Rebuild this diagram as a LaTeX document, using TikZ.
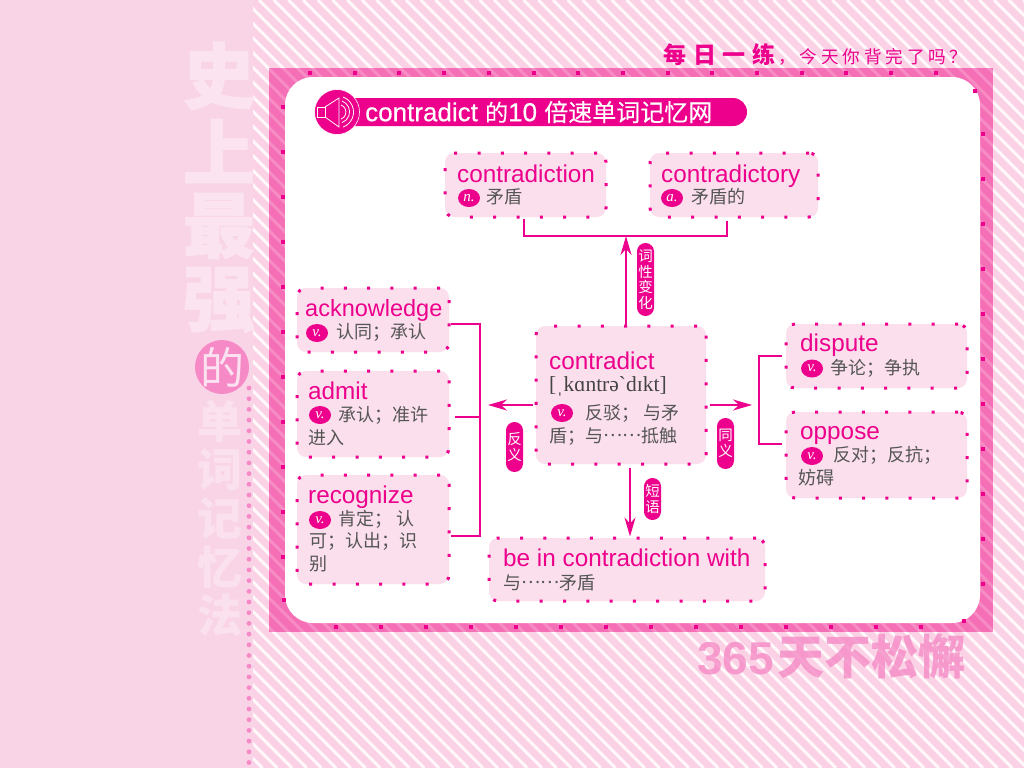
\documentclass[tikz,border=0pt]{standalone}
\usepackage{fontspec}
\usetikzlibrary{arrows.meta,shapes.geometric}
\setmainfont{Liberation Sans}
\newfontfamily\cjk{Noto Sans CJK SC}
\newfontfamily\cjkheavy[BoldFeatures={FakeBold=1.2}]{Noto Sans CJK SC}
\newfontfamily\cjkwide[LetterSpace=30]{Noto Sans CJK SC}
\newfontfamily\cjkspaced[LetterSpace=22]{Noto Sans CJK SC}
\newfontfamily\titlelatin[FakeBold=.5]{Liberation Sans}
\newfontfamily\titlecjk[FakeBold=.3]{Noto Sans CJK SC}
\newfontfamily\ipafont{Liberation Serif}
\newcommand{\cjkdots}{\raisebox{.33em}[0pt][0pt]{……}}
\definecolor{magentamain}{HTML}{EC008C}
\definecolor{panelpink}{HTML}{F9D4E7}
\definecolor{stripepink}{HTML}{FBD2E5}
\definecolor{framepink}{HTML}{F56FB6}
\definecolor{boxpink}{HTML}{FBDFEC}
\definecolor{softpink}{HTML}{F58AC6}
\definecolor{glossgray}{HTML}{555555}
\tikzset{
    wordbox/.style={
        fill=boxpink,
        draw=magentamain,
        line width=3pt,
        dash pattern=on 3pt off 20.3pt,
        rounded corners=9pt,
        inner sep=0pt
    },
    headword/.style={
        anchor=base west,
        inner sep=0pt,
        text=magentamain,
        font=\fontsize{24.3}{26}\selectfont
    },
    gloss/.style={
        anchor=west,
        inner sep=0pt,
        text=glossgray,
        font=\cjk\fontsize{18}{20}\selectfont
    },
    posmark/.style={
        ellipse,
        fill=magentamain,
        text=white,
        inner sep=0pt,
        minimum width=22pt,
        minimum height=18pt,
        font=\ipafont\itshape\fontsize{15}{15}\selectfont
    },
    tagpill/.style={
        fill=magentamain,
        text=white,
        inner sep=0pt,
        minimum width=17pt,
        rounded corners=8.4pt,
        align=center,
        font=\cjk\fontsize{14.5}{15.5}\selectfont
    },
    branch/.style={
        draw=magentamain,
        line width=1.5pt
    },
    pointer/.style={
        branch,
        -{Stealth[length=19pt,width=11pt,inset=6pt]}
    },
    framedot/.style={
        fill=magentamain
    },
    bigglyph/.style={
        text=white!38!panelpink,
        font=\cjkheavy\bfseries\fontsize{72}{72}\selectfont
    },
    midglyph/.style={
        text=white!30!panelpink,
        font=\cjk\bfseries\fontsize{45}{45}\selectfont
    }
}

\begin{document}
\begin{tikzpicture}[x=1pt,y=1pt]
\useasboundingbox (0,0) rectangle (1024,-768);

% Background
\fill[stripepink] (0,0) rectangle (1024,-768);
\begin{scope}
\clip (0,0) rectangle (1024,-768);
\foreach \sx in {-770,-755.3,...,1030} {
    \draw[white!85!stripepink,line width=3pt] (\sx,0) -- (\sx+768,-768);
}
\end{scope}
\fill[panelpink] (0,0) rectangle (253,-768);

% Side column
\node[bigglyph] (shi) at (219,-76) {史};
\node[bigglyph] (shang) at (219,-151) {上};
\node[bigglyph] (zui) at (219,-226) {最};
\node[bigglyph] (qiang) at (219,-300) {强};
\node[circle,fill=softpink,minimum size=54pt,inner sep=0pt] (decircle) at (222,-367) {};
\node[text=white!75!softpink,font=\cjk\fontsize{44}{44}\selectfont] (de) at (decircle) {的};
\node[midglyph] (dan) at (220,-421) {单};
\node[midglyph] (ci) at (220,-470) {词};
\node[midglyph] (ji) at (220,-518) {记};
\node[midglyph] (yi) at (220,-567) {忆};
\node[midglyph] (fa) at (220,-615) {法};
\foreach \dy in {388,398.7,...,770} {
    \fill[softpink] (249,-\dy) circle (2.4);
}

% Top line and bottom line
\node[anchor=west,inner sep=0pt,text=magentamain,font=\cjkwide\bfseries\fontsize{23}{23}\selectfont] (dailyword) at (663,-55) {每日一练};
\node[anchor=west,inner sep=0pt,text=magentamain,font=\cjkspaced\fontsize{17.6}{17.6}\selectfont] (dailyask) at (778,-57) {，今天你背完了吗？};
\node[anchor=west,inner sep=0pt,text=softpink,opacity=.8,font=\bfseries\fontsize{46}{46}\selectfont] (slogan) at (697,-656) {365\hspace{4pt}{\cjk\fontsize{47}{47}\selectfont 天不松懈}};

% Frame
\fill[framepink] (269,-68) rectangle (993,-632);
\begin{scope}
\clip (269,-68) rectangle (993,-632);
\foreach \sx in {-770,-755.3,...,1030} {
    \draw[white,opacity=.2,line width=3pt] (\sx,0) -- (\sx+768,-768);
}
\end{scope}
\fill[white,rounded corners=28pt] (285,-77) rectangle (980,-623);
\foreach \dx in {310,354.7,...,940} {
    \fill[framedot] (\dx-2,-71) rectangle (\dx+2,-75);
}
\foreach \dx in {336,381,...,925} {
    \fill[framedot] (\dx-2,-625) rectangle (\dx+2,-629);
}
\foreach \dy in {107,152,...,560} {
    \fill[framedot] (281,-\dy+2) rectangle (285,-\dy-2);
}
\foreach \dy in {134,179,...,590} {
    \fill[framedot] (981,-\dy+2) rectangle (985,-\dy-2);
}
\fill[framedot] (282,-598) rectangle (286,-602);
\fill[framedot] (973,-89) rectangle (977,-93);
\fill[framedot] (962,-619) rectangle (966,-623);

% Title
\node[fill=magentamain,rounded corners=14pt,minimum width=417pt,minimum height=28pt,inner sep=0pt] (titlebar) at (538.5,-112) {};
\node[circle,fill=magentamain,draw=white,line width=.6pt,minimum size=45pt,inner sep=0pt] (speaker) at (337,-112) {};
\draw[white,line width=.8pt] (317,-107) rectangle (325,-117);
\draw[white,line width=.8pt] (325,-107) -- (339,-98) -- (339,-127) -- (325,-117);
\draw[white,line width=.8pt] (341,-105) arc (70:-70:7.5);
\draw[white,line width=.8pt] (342,-101) arc (70:-70:11.5);
\draw[white,line width=.8pt] (343,-97) arc (70:-70:16);
\node[anchor=west,inner sep=0pt,text=white,font=\titlelatin\fontsize{26}{26}\selectfont] (titletext) at (365,-112) {contradict {\titlecjk\fontsize{23}{23}\selectfont 的}10 {\titlecjk\fontsize{24}{24}\selectfont 倍速单词记忆网}};

% Word family row
\node[wordbox,minimum width=161pt,minimum height=64pt] (tionbox) at (525.5,-185) {};
\node[headword] (tionword) at (457,-182) {contradiction};
\node[posmark] (tionpos) at (469,-198) {n.};
\node[gloss] (tiongloss) at (486,-197) {矛盾};

\node[wordbox,minimum width=168pt,minimum height=64pt] (torybox) at (734,-185) {};
\node[headword] (toryword) at (661,-182) {contradictory};
\node[posmark] (torypos) at (672,-198) {a.};
\node[gloss] (torygloss) at (691,-197) {矛盾的};

% Left column
\node[wordbox,minimum width=152pt,minimum height=64pt] (ackbox) at (373,-320) {};
\node[headword,font=\fontsize{23.5}{26}\selectfont] (ackword) at (305,-316) {acknowledge};
\node[posmark] (ackpos) at (317,-333) {v.};
\node[gloss] (ackgloss) at (336,-332) {认同；承认};

\node[wordbox,minimum width=152pt,minimum height=86pt] (admitbox) at (373,-414) {};
\node[headword] (admitword) at (308,-399) {admit};
\node[posmark] (admitpos) at (320,-415) {v.};
\node[gloss] (admitgloss) at (338,-415) {承认；准许};
\node[gloss] (admitmore) at (308,-438) {进入};

\node[wordbox,minimum width=152pt,minimum height=109pt] (recbox) at (373,-529.5) {};
\node[headword] (recword) at (308,-503) {recognize};
\node[posmark] (recpos) at (320,-520) {v.};
\node[gloss] (recgloss) at (338,-519) {肯定； 认};
\node[gloss] (recmore) at (309,-541) {可；认出；识};
\node[gloss] (reclast) at (309,-564) {别};

% Center
\node[wordbox,minimum width=170pt,minimum height=138pt] (centerbox) at (621,-395) {};
\node[headword] (centerword) at (549,-369) {contradict};
\node[anchor=west,inner sep=0pt,text=glossgray!80!black,font=\ipafont\fontsize{21.5}{21.5}\selectfont] (centeripa) at (549,-386) {[ˌkɑntrə`dɪkt]};
\node[posmark] (centerpos) at (562,-413) {v.};
\node[gloss] (centergloss) at (585,-413) {反驳； 与矛};
\node[gloss] (centermore) at (549,-436) {盾；与\cjkdots 抵触};

% Right column
\node[wordbox,minimum width=181pt,minimum height=64pt] (disputebox) at (876.5,-356) {};
\node[headword] (disputeword) at (800,-351) {dispute};
\node[posmark] (disputepos) at (812,-368.5) {v.};
\node[gloss] (disputegloss) at (830,-368) {争论；争执};

\node[wordbox,minimum width=181pt,minimum height=86pt] (opposebox) at (876.5,-455) {};
\node[headword] (opposeword) at (800,-439) {oppose};
\node[posmark] (opposepos) at (812,-456) {v.};
\node[gloss] (opposegloss) at (833,-455) {反对；反抗；};
\node[gloss] (opposemore) at (798,-478) {妨碍};

% Phrase
\node[wordbox,minimum width=276pt,minimum height=63pt] (phrasebox) at (627,-569.5) {};
\node[headword] (phraseword) at (503,-566) {be in contradiction with};
\node[gloss] (phrasegloss) at (503,-583) {与\cjkdots 矛盾};

% Tags
\node[tagpill,minimum height=73pt] (familytag) at (645.5,-279.5) {词\\性\\变\\化};
\node[tagpill,minimum height=50pt] (antotag) at (514.5,-447) {反\\义};
\node[tagpill,minimum height=51pt] (synotag) at (725.5,-443.5) {同\\义};
\node[tagpill,minimum height=42pt] (phrasetag) at (652.5,-499) {短\\语};

% Connectors
\coordinate (topjoin) at (626,-236);
\coordinate (leftjoin) at (480,-417);
\coordinate (rightjoin) at (759,-400);
\coordinate (lefttip) at (488,-405);
\coordinate (righttip) at (752,-405);
\draw[branch] ([xshift=-1.5pt]tionbox.south) |- (topjoin) -| ([xshift=-7pt,yshift=-2pt]torybox.south);
\draw[pointer] ([xshift=5pt]centerbox.north) -- (topjoin);
\draw[pointer] ([yshift=-10pt,xshift=-2pt]centerbox.west) -- (lefttip);
\draw[pointer] ([yshift=-10pt,xshift=2pt]centerbox.east) -- (righttip);
\draw[pointer] ([xshift=9pt,yshift=-2pt]centerbox.south) -- ([xshift=3pt]phrasebox.north);
\draw[branch] ([yshift=-4pt]ackbox.east) -| (leftjoin) |- ([yshift=-6.5pt]recbox.east);
\draw[branch] ([yshift=-3pt,xshift=4pt]admitbox.east) -- (leftjoin);
\draw[branch] ([xshift=-3pt]disputebox.west) -| (rightjoin) |- ([yshift=11pt,xshift=-3pt]opposebox.west);

\end{tikzpicture}
\end{document}
